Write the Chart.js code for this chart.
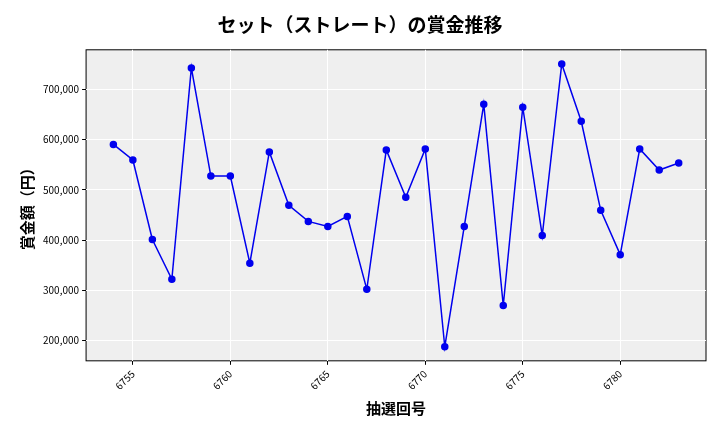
<!DOCTYPE html>
<html>
<head>
<meta charset="utf-8">
<script src="https://cdn.jsdelivr.net/npm/chart.js@4"></script>
<style>
  body { margin: 0; background: #fff; }
  #wrap { width: 720px; height: 432px; }
</style>
</head>
<body>
<div id="wrap"><canvas id="myChart"></canvas></div>
<script>
const draws = [6754, 6755, 6756, 6757, 6758, 6759, 6760, 6761, 6762, 6763,
  6764, 6765, 6766, 6767, 6768, 6769, 6770, 6771, 6772, 6773,
  6774, 6775, 6776, 6777, 6778, 6779, 6780, 6781, 6782, 6783];
const prizes = [590000, 559000, 401000, 322000, 742000, 527000, 527000, 354000, 575000, 469000,
  437000, 427000, 447000, 302000, 579000, 485000, 581000, 188000, 427000, 670000,
  270000, 664000, 409000, 750000, 636000, 459000, 371000, 581000, 539000, 553000];

const font = "'Noto Sans CJK JP', 'DejaVu Sans', sans-serif";

const bgPlugin = {
  id: 'bg',
  beforeDraw(chart) {
    const a = chart.chartArea, c = chart.ctx;
    c.save();
    c.fillStyle = '#efefef';
    c.fillRect(a.left, a.top, a.width, a.height);
    c.strokeStyle = '#000';
    c.lineWidth = 1;
    c.strokeRect(a.left, a.top, a.width, a.height);
    c.restore();
  }
};

const ctx = document.getElementById('myChart').getContext('2d');
new Chart(ctx, {
  type: 'line',
  data: {
    datasets: [{
      data: draws.map((d, i) => ({ x: d, y: prizes[i] })),
      borderColor: '#0000ee',
      backgroundColor: '#0000ee',
      borderWidth: 1.5,
      pointRadius: 3,
      tension: 0
    }]
  },
  options: {
    responsive: true,
    maintainAspectRatio: false,
    animation: false,
    layout: { padding: { left: 14, right: 14, top: 9, bottom: 11 } },
    plugins: {
      legend: { display: false },
      tooltip: { enabled: false },
      title: {
        display: true,
        text: 'セット（ストレート）の賞金推移',
        font: { family: font, size: 19, weight: 'bold' },
        color: '#000',
        padding: { top: 4, bottom: 14 }
      }
    },
    scales: {
      x: {
        type: 'linear',
        min: 6752.6,
        max: 6784.4,
        afterBuildTicks(axis) {
          axis.ticks = [6755, 6760, 6765, 6770, 6775, 6780].map(v => ({ value: v }));
        },
        ticks: {
          maxRotation: 45, minRotation: 45,
          color: '#000',
          font: { family: font, size: 10 },
          callback: v => String(v)
        },
        grid: { color: '#ffffff', drawTicks: true, tickColor: '#000', tickLength: 4 },
        border: { display: false },
        title: {
          display: true, text: '抽選回号', color: '#000',
          font: { family: font, size: 15, weight: 'bold' }
        }
      },
      y: {
        min: 160000,
        max: 778000,
        afterBuildTicks(axis) {
          axis.ticks = [200000, 300000, 400000, 500000, 600000, 700000].map(v => ({ value: v }));
        },
        ticks: {
          color: '#000',
          font: { family: font, size: 10 },
          callback: v => v.toLocaleString('en-US')
        },
        grid: { color: '#ffffff', drawTicks: true, tickColor: '#000', tickLength: 4 },
        border: { display: false },
        title: {
          display: true, text: '賞金額（円）', color: '#000',
          font: { family: font, size: 15, weight: 'bold' }
        }
      }
    }
  },
  plugins: [bgPlugin]
});
</script>
</body>
</html>
